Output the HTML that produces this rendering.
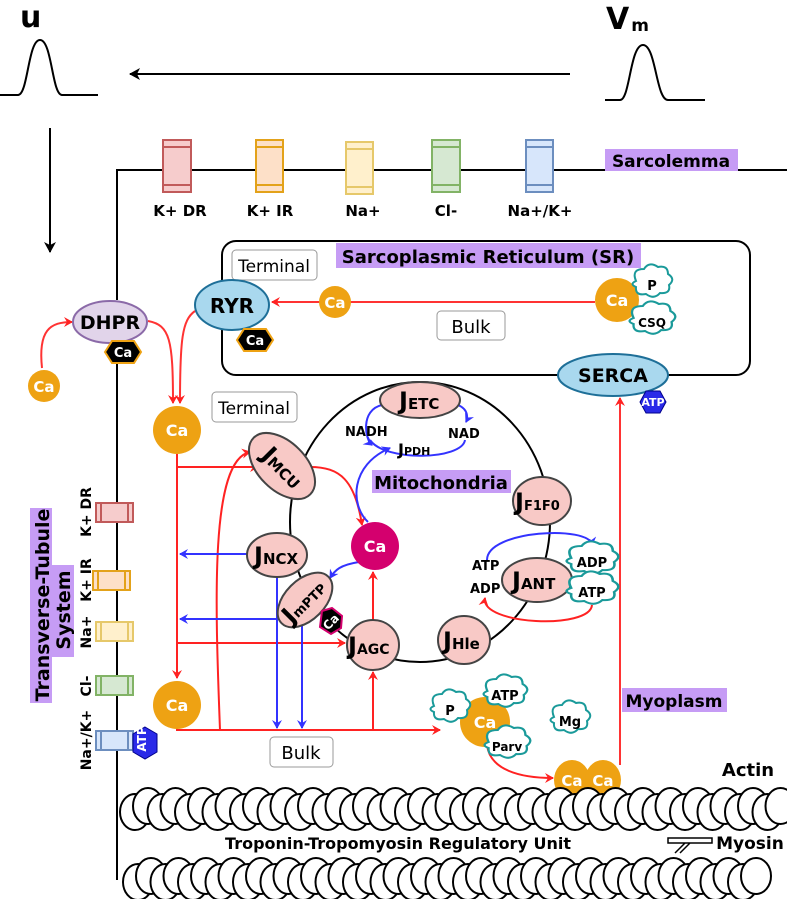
<!DOCTYPE html>
<html><head><meta charset="utf-8"><style>
body{margin:0;background:#fff}
svg{display:block;font-family:"DejaVu Sans","Liberation Sans",sans-serif;font-weight:bold}
</style></head><body>
<svg width="787" height="899" viewBox="0 0 787 899" xmlns="http://www.w3.org/2000/svg">
<defs>
<marker id="ar" markerWidth="10" markerHeight="10" refX="8" refY="5" orient="auto" markerUnits="userSpaceOnUse"><path d="M0,0 L9,5 L0,10 L3,5 Z" fill="#f22"/></marker>
<marker id="ab" markerWidth="10" markerHeight="10" refX="8" refY="5" orient="auto" markerUnits="userSpaceOnUse"><path d="M0,0 L9,5 L0,10 L3,5 Z" fill="#33f"/></marker>
<marker id="ak" markerWidth="12" markerHeight="12" refX="10" refY="6" orient="auto" markerUnits="userSpaceOnUse"><path d="M0,0 L11,6 L0,12 L3,6 Z" fill="#000"/></marker>
<g id="cloud"><path d="M-16,-4 q-5,-12 8,-12 q5,-8 14,-2 q10,-2 10,7 q8,5 1,11 q2,9 -9,8 q-6,7 -14,1 q-11,2 -10,-7 q-7,-3 0,-6z" fill="#fff" stroke="#1a9a9a" stroke-width="2"/></g>
</defs>
<text x="20" y="27" font-size="30">u</text>
<path d="M0,95 H18 C28,95 28,40 40,40 C52,40 52,95 62,95 H98" fill="none" stroke="#000" stroke-width="2"/>
<text x="606" y="29" font-size="30">V<tspan font-size="17" dx="2" dy="2">m</tspan></text>
<path d="M605,100 H620 C630,100 630,45 643,45 C656,45 656,100 668,100 H705" fill="none" stroke="#000" stroke-width="2"/>
<line x1="570" y1="74" x2="130" y2="74" stroke="#000" stroke-width="2" marker-end="url(#ak)"/>
<line x1="50" y1="128" x2="50" y2="252" stroke="#000" stroke-width="2" marker-end="url(#ak)"/>
<path d="M117,300 V170 H787" fill="none" stroke="#000" stroke-width="2"/>
<line x1="117" y1="345" x2="117" y2="880" stroke="#000" stroke-width="2"/>
<rect x="605" y="149" width="133" height="22" fill="#c69cf5"/>
<text x="671" y="167" font-size="17" text-anchor="middle">Sarcolemma</text>
<g stroke-width="2">
<rect x="163" y="140" width="28" height="52" fill="#f6cccc" stroke="#c15a5a"/><line x1="163" y1="147" x2="191" y2="147" stroke="#c15a5a"/><line x1="163" y1="185" x2="191" y2="185" stroke="#c15a5a"/>
<rect x="256" y="140" width="27" height="52" fill="#fde0c8" stroke="#e3a21a"/><line x1="256" y1="147" x2="283" y2="147" stroke="#e3a21a"/><line x1="256" y1="185" x2="283" y2="185" stroke="#e3a21a"/>
<rect x="346" y="142" width="27" height="52" fill="#fff0cc" stroke="#e6c86a"/><line x1="346" y1="149" x2="373" y2="149" stroke="#e6c86a"/><line x1="346" y1="187" x2="373" y2="187" stroke="#e6c86a"/>
<rect x="432" y="140" width="28" height="52" fill="#d6e8d2" stroke="#82b366"/><line x1="432" y1="147" x2="460" y2="147" stroke="#82b366"/><line x1="432" y1="185" x2="460" y2="185" stroke="#82b366"/>
<rect x="526" y="140" width="27" height="52" fill="#d7e6fb" stroke="#6c8ebf"/><line x1="526" y1="147" x2="553" y2="147" stroke="#6c8ebf"/><line x1="526" y1="185" x2="553" y2="185" stroke="#6c8ebf"/>
</g>
<g font-size="15" text-anchor="middle"><text x="180" y="216">K+ DR</text><text x="270" y="216">K+ IR</text><text x="363" y="216">Na+</text><text x="446" y="216">Cl-</text><text x="540" y="216">Na+/K+</text></g>
<rect x="222" y="241" width="528" height="134" rx="14" fill="none" stroke="#000" stroke-width="2"/>
<rect x="336" y="243" width="305" height="25" fill="#c69cf5"/>
<text x="488" y="263" font-size="18" text-anchor="middle">Sarcoplasmic Reticulum (SR)</text>
<rect x="232" y="250" width="85" height="30" rx="4" fill="#fff" stroke="#999"/><text x="274" y="272" font-size="17" font-weight="normal" text-anchor="middle">Terminal</text>
<rect x="437" y="311" width="68" height="29" rx="4" fill="#fff" stroke="#999"/><text x="471" y="333" font-size="18" font-weight="normal" text-anchor="middle">Bulk</text>
<line x1="595" y1="302" x2="272" y2="302" stroke="#f33" stroke-width="2" marker-end="url(#ar)"/>
<circle cx="335" cy="302" r="16" fill="#eea213"/><text x="335" y="308" font-size="15" fill="#fff" text-anchor="middle">Ca</text>
<circle cx="617" cy="300" r="22" fill="#eea213"/><text x="617" y="306" font-size="16" fill="#fff" text-anchor="middle">Ca</text>
<use href="#cloud" x="652" y="285"/><text x="652" y="290" font-size="13" text-anchor="middle">P</text>
<use href="#cloud" transform="translate(652,322) scale(1.15,1)"/><text x="652" y="327" font-size="12" text-anchor="middle">CSQ</text>
<line x1="620" y1="765" x2="620" y2="398" stroke="#f33" stroke-width="2" marker-end="url(#ar)"/>
<ellipse cx="613" cy="375" rx="55" ry="21" fill="#a9d8ee" stroke="#1e6f98" stroke-width="2"/><text x="613" y="382" font-size="19" text-anchor="middle">SERCA</text>
<polygon points="640,402 646,391 660,391 666,402 660,413 646,413" fill="#2a2ae8" stroke="#00008b"/><text x="653" y="406" font-size="11" fill="#fff" text-anchor="middle">ATP</text>
<path d="M42,368 C38,330 50,322 72,322" fill="none" stroke="#f33" stroke-width="2" marker-end="url(#ar)"/>
<circle cx="44" cy="386" r="16" fill="#eea213"/><text x="44" y="392" font-size="15" fill="#fff" text-anchor="middle">Ca</text>
<path d="M148,321 C170,325 173,340 173,403" fill="none" stroke="#f33" stroke-width="2" marker-end="url(#ar)"/>
<path d="M195,311 C182,320 180,340 180,403" fill="none" stroke="#f33" stroke-width="2" marker-end="url(#ar)"/>
<ellipse cx="110" cy="322" rx="37" ry="21" fill="#e1d4ea" stroke="#8b6aa8" stroke-width="2"/><text x="110" y="329" font-size="19" text-anchor="middle">DHPR</text>
<polygon points="105,352 112,341 134,341 141,352 134,363 112,363" fill="#000" stroke="#eea213" stroke-width="2"/><text x="123" y="357" font-size="13" fill="#fff" text-anchor="middle">Ca</text>
<ellipse cx="232" cy="305" rx="37" ry="25" fill="#a9d8ee" stroke="#1e6f98" stroke-width="2"/><text x="232" y="313" font-size="20" text-anchor="middle">RYR</text>
<polygon points="237,340 244,329 266,329 273,340 266,351 244,351" fill="#000" stroke="#eea213" stroke-width="2"/><text x="255" y="345" font-size="13" fill="#fff" text-anchor="middle">Ca</text>
<circle cx="177" cy="430" r="24" fill="#eea213"/><text x="177" y="436" font-size="16" fill="#fff" text-anchor="middle">Ca</text>
<rect x="212" y="392" width="85" height="30" rx="4" fill="#fff" stroke="#999"/><text x="254" y="414" font-size="17" font-weight="normal" text-anchor="middle">Terminal</text>
<ellipse cx="420" cy="522" rx="130" ry="140" fill="none" stroke="#000" stroke-width="2"/>
<rect x="372" y="470" width="139" height="23" fill="#c69cf5"/><text x="441" y="489" font-size="18" text-anchor="middle">Mitochondria</text>
<g fill="none" stroke="#f22" stroke-width="2">
<line x1="177" y1="454" x2="177" y2="678" marker-end="url(#ar)"/>
<line x1="177" y1="467" x2="258" y2="467" marker-end="url(#ar)"/>
<line x1="177" y1="643" x2="345" y2="643" marker-end="url(#ar)"/>
<path d="M177,720 V730 H440" marker-end="url(#ar)"/>
<path d="M220,730 C215,600 210,460 250,452" marker-end="url(#ar)"/>
<line x1="373" y1="730" x2="373" y2="672" marker-end="url(#ar)"/>
<line x1="373" y1="620" x2="373" y2="572" marker-end="url(#ar)"/>
<path d="M310,467 C340,467 355,480 362,525" marker-end="url(#ar)"/>
<path d="M592,605 C590,630 480,625 485,598" marker-end="url(#ar)"/>
<path d="M487,745 C490,770 520,778 553,778" marker-end="url(#ar)"/>
</g>
<g fill="none" stroke="#33f" stroke-width="2">
<line x1="247" y1="554" x2="180" y2="554" marker-end="url(#ab)"/>
<line x1="285" y1="619" x2="180" y2="619" marker-end="url(#ab)"/>
<line x1="277" y1="575" x2="277" y2="728" marker-end="url(#ab)"/>
<line x1="302" y1="610" x2="302" y2="728" marker-end="url(#ab)"/>
<path d="M368,522 C350,505 350,465 390,448" marker-end="url(#ab)"/>
<path d="M382,405 C360,410 365,440 372,445" marker-end="url(#ab)"/>
<path d="M458,405 C470,410 467,420 466,422" marker-end="url(#ab)"/>
<path d="M465,440 C462,460 385,462 370,440"/>
<path d="M359,562 C340,565 335,570 330,578" marker-end="url(#ab)"/>
<path d="M487,560 C487,530 590,525 592,545" marker-end="url(#ab)"/>
</g>
<circle cx="375" cy="546" r="24" fill="#d4006e"/><text x="375" y="552" font-size="16" fill="#fff" text-anchor="middle">Ca</text>
<g fill="#f8c9c6" stroke="#444" stroke-width="2">
<ellipse cx="420" cy="400" rx="40" ry="18"/>
<ellipse cx="282" cy="466" rx="40" ry="24" transform="rotate(45 282 466)"/>
<ellipse cx="542" cy="501" rx="29" ry="24"/>
<ellipse cx="277" cy="555" rx="30" ry="22"/>
<ellipse cx="305" cy="600" rx="33" ry="20" transform="rotate(-45 305 600)"/>
<ellipse cx="373" cy="645" rx="26" ry="25"/>
<ellipse cx="464" cy="640" rx="26" ry="24"/>
<ellipse cx="537" cy="580" rx="35" ry="22"/>
</g>
<polygon points="322,611 332,608 342,616 341,628 331,634 320,627" fill="#000" stroke="#d4006e" stroke-width="2"/><text x="331" y="626" font-size="12" fill="#fff" text-anchor="middle" transform="rotate(-45 331 622)">Ca</text>
<g font-size="24">
<text x="399" y="409">J<tspan font-size="15">ETC</tspan></text>
<text x="260" y="475" transform="rotate(45 282 466)">J<tspan font-size="15">MCU</tspan></text>
<text x="515" y="510">J<tspan font-size="13">F1F0</tspan></text>
<text x="254" y="564">J<tspan font-size="15">NCX</tspan></text>
<text x="278" y="608" transform="rotate(-45 305 600)">J<tspan font-size="13">mPTP</tspan></text>
<text x="348" y="654">J<tspan font-size="14">AGC</tspan></text>
<text x="443" y="649">J<tspan font-size="15">Hle</tspan></text>
<text x="512" y="589">J<tspan font-size="15">ANT</tspan></text>
</g>
<g font-size="13">
<text x="345" y="436">NADH</text><text x="448" y="438">NAD</text>
<text x="398" y="455" font-size="16">J<tspan font-size="11">PDH</tspan></text>
<text x="472" y="570">ATP</text><text x="470" y="593">ADP</text>
</g>
<use href="#cloud" transform="translate(592,562) scale(1.3,1)"/><text x="592" y="567" font-size="13" text-anchor="middle">ADP</text>
<use href="#cloud" transform="translate(592,592) scale(1.3,1)"/><text x="592" y="597" font-size="13" text-anchor="middle">ATP</text>
<circle cx="177" cy="705" r="24" fill="#eea213"/><text x="177" y="711" font-size="16" fill="#fff" text-anchor="middle">Ca</text>
<rect x="270" y="737" width="63" height="30" rx="4" fill="#fff" stroke="#999"/><text x="301" y="759" font-size="18" font-weight="normal" text-anchor="middle">Bulk</text>
<circle cx="485" cy="722" r="25" fill="#eea213"/><text x="485" y="728" font-size="16" fill="#fff" text-anchor="middle">Ca</text>
<use href="#cloud" x="450" y="710"/><text x="450" y="715" font-size="13" text-anchor="middle">P</text>
<use href="#cloud" transform="translate(505,695) scale(1.1,1)"/><text x="505" y="700" font-size="13" text-anchor="middle">ATP</text>
<use href="#cloud" x="570" y="721"/><text x="570" y="726" font-size="13" text-anchor="middle">Mg</text>
<use href="#cloud" transform="translate(507,746) scale(1.15,1)"/><text x="507" y="751" font-size="12" text-anchor="middle">Parv</text>
<ellipse cx="572" cy="780" rx="18" ry="20" fill="#eea213"/><ellipse cx="603" cy="780" rx="18" ry="20" fill="#eea213"/>
<text x="572" y="786" font-size="15" fill="#fff" text-anchor="middle">Ca</text><text x="603" y="786" font-size="15" fill="#fff" text-anchor="middle">Ca</text>
<rect x="622" y="688" width="105" height="24" fill="#c69cf5"/><text x="674" y="707" font-size="17" text-anchor="middle">Myoplasm</text>
<text x="748" y="776" font-size="18" text-anchor="middle">Actin</text>
<g id="r1" fill="#fff" stroke="#000" stroke-width="2"></g>
<text x="398" y="849" font-size="16" text-anchor="middle">Troponin-Tropomyosin Regulatory Unit</text>
<path d="M668,838 H712 V843 H668 Z M685,843 L675,853 M690,843 L680,853" fill="#fff" stroke="#000" stroke-width="1.5"/>
<text x="750" y="849" font-size="17" text-anchor="middle">Myosin</text>
<g stroke-width="2">
<rect x="96" y="503" width="37" height="19" fill="#f6cccc" stroke="#c15a5a"/><line x1="101" y1="503" x2="101" y2="522" stroke="#c15a5a"/><line x1="128" y1="503" x2="128" y2="522" stroke="#c15a5a"/>
<rect x="93" y="571" width="37" height="19" fill="#fde0c8" stroke="#e3a21a"/><line x1="98" y1="571" x2="98" y2="590" stroke="#e3a21a"/><line x1="125" y1="571" x2="125" y2="590" stroke="#e3a21a"/>
<rect x="96" y="622" width="37" height="19" fill="#fff0cc" stroke="#e6c86a"/><line x1="101" y1="622" x2="101" y2="641" stroke="#e6c86a"/><line x1="128" y1="622" x2="128" y2="641" stroke="#e6c86a"/>
<rect x="96" y="676" width="37" height="19" fill="#d6e8d2" stroke="#82b366"/><line x1="101" y1="676" x2="101" y2="695" stroke="#82b366"/><line x1="128" y1="676" x2="128" y2="695" stroke="#82b366"/>
<rect x="96" y="731" width="37" height="19" fill="#d7e6fb" stroke="#6c8ebf"/><line x1="101" y1="731" x2="101" y2="750" stroke="#6c8ebf"/><line x1="128" y1="731" x2="128" y2="750" stroke="#6c8ebf"/>
</g>
<polygon points="145,727 157,734 157,752 145,759 133,752 133,734" fill="#2a2ae8" stroke="#00008b"/><text x="150" y="743" font-size="12" fill="#fff" text-anchor="middle" transform="rotate(-90 146 743)">ATP</text>
<g font-size="14" transform="rotate(-90)"><text x="-512" y="91" text-anchor="middle">K+ DR</text><text x="-580" y="91" text-anchor="middle">K+ IR</text><text x="-632" y="91" text-anchor="middle">Na+</text><text x="-686" y="91" text-anchor="middle">Cl-</text><text x="-740" y="91" text-anchor="middle">Na+/K+</text></g>
<rect x="30" y="508" width="22" height="195" fill="#c69cf5"/><rect x="52" y="565" width="22" height="92" fill="#c69cf5"/>
<g font-size="19" transform="rotate(-90)" text-anchor="middle"><text x="-605" y="49">Transverse-Tubule</text><text x="-610" y="70">System</text></g>
</svg>
<script>
(function(){
var ns="http://www.w3.org/2000/svg",g=document.getElementById("r1");
function row(y,x0,x1){for(var x=x0;x<=x1;x+=27.5){for(var k=0;k<2;k++){var e=document.createElementNS(ns,"ellipse");e.setAttribute("cx",x+k*13);e.setAttribute("cy",y+k*-6+6);e.setAttribute("rx",15);e.setAttribute("ry",18);g.appendChild(e);}}}
row(806,135,770);row(876,138,770);
})();
</script>
</body></html>
